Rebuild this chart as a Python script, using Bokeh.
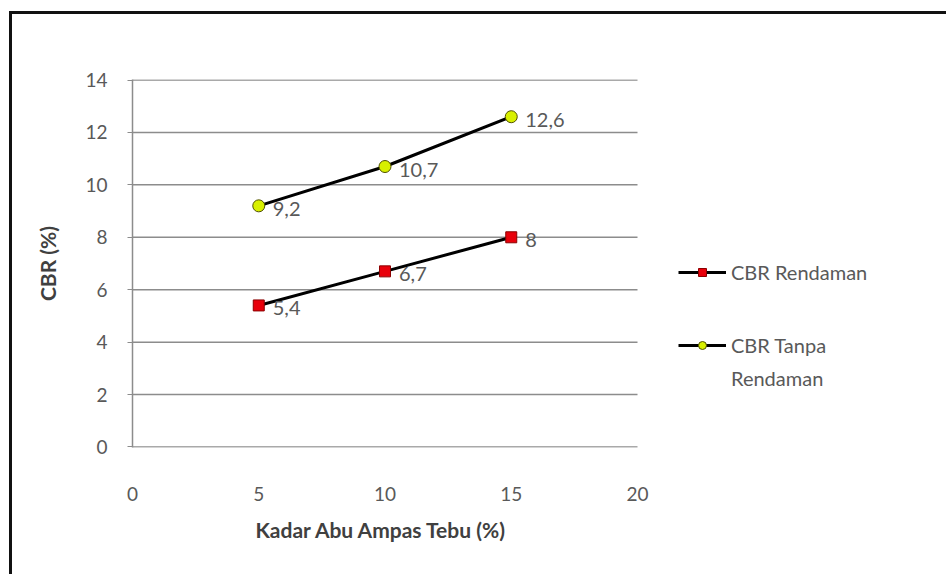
from bokeh.plotting import figure
from bokeh.models import ColumnDataSource, Legend, LegendItem, FixedTicker, Range1d, Title
from bokeh.layouts import column
from bokeh.embed import file_html
from bokeh.resources import INLINE
from bokeh.core.properties import value

kadar = [5, 10, 15]
cbr_rendaman = [5.4, 6.7, 8.0]
cbr_tanpa = [9.2, 10.7, 12.6]
label_rendaman = ["5,4", "6,7", "8"]
label_tanpa = ["9,2", "10,7", "12,6"]
series_names = ["CBR Rendaman", "CBR Tanpa", "Rendaman"]
x_title = "Kadar Abu Ampas Tebu (%)"
y_title = "CBR (%)"
x_min, x_max = 0, 20
x_ticks = [0, 5, 10, 15, 20]
y_ticks = [0, 2, 4, 6, 8, 10, 12, 14]

FONT = "Lato"
GRAY = "#595959"

src_r = ColumnDataSource(dict(x=kadar, y=cbr_rendaman, t=label_rendaman))
src_t = ColumnDataSource(dict(x=kadar, y=cbr_tanpa, t=label_tanpa))
src_g = ColumnDataSource(dict(x0=[x_min] * len(y_ticks), x1=[x_max] * len(y_ticks),
                              y=y_ticks))

# frame extends to the right so that the legend (drawn inside it) is not clipped
p = figure(width=934, height=560, output_backend="svg", toolbar_location=None,
           x_range=Range1d(x_min, x_max * 1.6), y_range=Range1d(-0.02, 14.02),
           min_border_left=120, min_border_right=6, min_border_top=65, min_border_bottom=127)
p.outline_line_color = None
p.background_fill_color = "white"
p.border_fill_color = "white"

p.xgrid.grid_line_color = None
p.ygrid.grid_line_color = None
p.segment(x0="x0", x1="x1", y0="y", y1="y", source=src_g,
          line_color="#8c8c8c", line_width=1.5)

p.xaxis.ticker = FixedTicker(ticks=x_ticks)
p.yaxis.ticker = FixedTicker(ticks=y_ticks)
p.xaxis.axis_line_color = None
p.xaxis.major_tick_line_color = None
p.xaxis.minor_tick_line_color = None
p.yaxis.axis_line_color = "#8c8c8c"
p.yaxis.axis_line_width = 1.5
p.yaxis.major_tick_line_color = "#8c8c8c"
p.yaxis.major_tick_out = 5
p.yaxis.major_tick_in = 0
p.yaxis.minor_tick_line_color = None
for ax in (p.xaxis, p.yaxis):
    ax.major_label_text_font = FONT
    ax.major_label_text_font_size = "19px"
    ax.major_label_text_color = GRAY
p.yaxis.major_label_standoff = 20
p.xaxis.major_label_standoff = 33
p.yaxis.axis_label = y_title
p.yaxis.axis_label_text_font = FONT
p.yaxis.axis_label_text_font_size = "21px"
p.yaxis.axis_label_text_font_style = "bold"
p.yaxis.axis_label_text_color = "#404040"
p.yaxis.axis_label_standoff = 22

xt = Title(text=x_title, align="left", offset=123, standoff=23,
           text_font=FONT, text_font_size="21px", text_font_style="bold",
           text_color="#404040")
p.add_layout(xt, "below")

l1 = p.line("x", "y", source=src_r, line_color="black", line_width=3)
m1 = p.scatter("x", "y", source=src_r, marker="square", size=11,
               fill_color="#e8000b", line_color="#8b0000", line_width=1)
l2 = p.line("x", "y", source=src_t, line_color="black", line_width=3)
m2 = p.scatter("x", "y", source=src_t, marker="circle", size=12,
               fill_color="#d8f000", line_color="#505000", line_width=1)
dummy = p.line(x=[], y=[], line_alpha=0)

for src in (src_r, src_t):
    p.text("x", "y", text="t", source=src, x_offset=14, y_offset=3,
           text_font=value(FONT), text_font_size="20px", text_color=GRAY,
           text_baseline="middle", text_align="left")


def make_legend(items, loc, spacing):
    lg = Legend(items=items, location=loc)
    lg.border_line_color = None
    lg.background_fill_alpha = 0
    lg.label_text_font = FONT
    lg.label_text_font_size = "20px"
    lg.label_text_color = GRAY
    lg.glyph_width = 48
    lg.glyph_height = 20
    lg.label_standoff = 5
    lg.spacing = spacing
    lg.padding = 0
    lg.margin = 0
    return lg


legend1 = make_legend([LegendItem(label=series_names[0], renderers=[l1, m1])], (546, 163), 0)
legend2 = make_legend([LegendItem(label=series_names[1], renderers=[l2, m2]),
                       LegendItem(label=series_names[2], renderers=[dummy])], (546, 57), 9)
p.add_layout(legend1, "center")
p.add_layout(legend2, "center")

layout = column(p, styles={"border-left": "3px solid #111", "border-top": "3px solid #111",
                           "margin-left": "9px", "margin-top": "11px"})

open("out.html", "w").write(file_html(layout, INLINE))
